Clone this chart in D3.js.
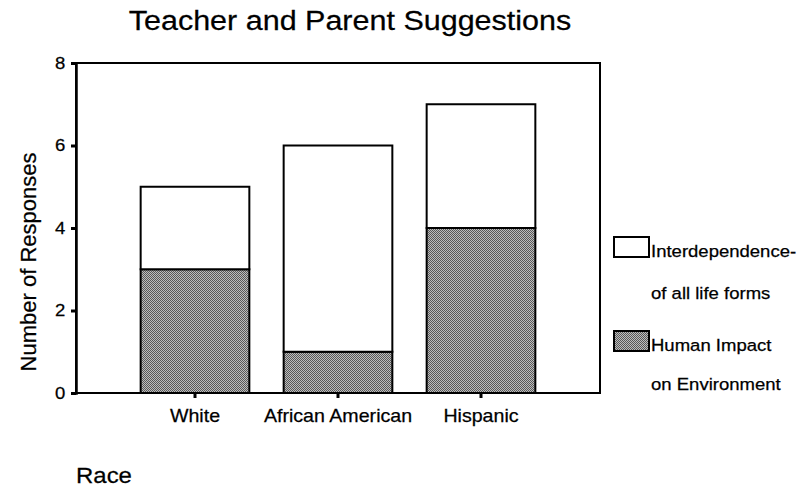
<!DOCTYPE html>
<html>
<head>
<meta charset="utf-8">
<script src="https://cdn.jsdelivr.net/npm/d3@7/dist/d3.min.js"></script>
<style>
  html, body { margin: 0; padding: 0; background: #fff; }
  svg { display: block; }
  text { font-family: "Liberation Sans", Arial, Helvetica, sans-serif; fill: #000; stroke: #000; stroke-width: 0.25px; }
  .wide { transform-box: fill-box; transform-origin: center; transform: scaleX(1.09); }
  .wideL { transform-box: fill-box; transform-origin: left; transform: scaleX(1.09); }
</style>
</head>
<body>
<svg id="chart" width="805" height="488"></svg>
<script>
// ---- Data ----
const categories = ["White", "African American", "Hispanic"];
const humanImpact = [3, 1, 4];            // Human Impact on Environment (bottom, shaded)
const interdependence = [2, 5, 3];        // Interdependence of all life forms (top, white)
const yTicks = [0, 2, 4, 6, 8];
const seriesNames = ["Interdependence-|of all life forms", "Human Impact|on Environment"];
const titleText = "Teacher and Parent Suggestions";
const yLabel = "Number of Responses";
const xLabel = "Race";

// ---- Layout ----
const svg = d3.select("#chart");
const plot = { left: 76, right: 600, top: 63, bottom: 393 };

const defs = svg.append("defs");
const pat = defs.append("pattern")
  .attr("id", "dither").attr("patternUnits", "userSpaceOnUse")
  .attr("width", 2).attr("height", 2);
pat.append("rect").attr("width", 2).attr("height", 2).attr("fill", "#bdbdbd");
pat.append("rect").attr("x", 0).attr("y", 0).attr("width", 1).attr("height", 1).attr("fill", "#585858");
pat.append("rect").attr("x", 1).attr("y", 1).attr("width", 1).attr("height", 1).attr("fill", "#585858");

const x = d3.scaleBand().domain(categories).range([123.5, 552.5])
  .paddingInner(0.24).paddingOuter(0.12);
const y = d3.scaleLinear().domain([0, 8]).range([plot.bottom, plot.top]);

// stacked data
const rows = categories.map((c, i) => ({ cat: c, human: humanImpact[i], inter: interdependence[i] }));
const stack = d3.stack().keys(["human", "inter"])(rows);

// frame
svg.append("rect")
  .attr("x", plot.left).attr("y", plot.top)
  .attr("width", plot.right - plot.left).attr("height", plot.bottom - plot.top)
  .attr("fill", "none").attr("stroke", "#000").attr("stroke-width", 2);

// bars
const fills = { human: "url(#dither)", inter: "#fff" };
stack.forEach(layer => {
  svg.append("g").selectAll("rect").data(layer).join("rect")
    .attr("x", d => x(d.data.cat))
    .attr("width", x.bandwidth())
    .attr("y", d => y(d[1]))
    .attr("height", d => y(d[0]) - y(d[1]))
    .attr("fill", fills[layer.key])
    .attr("stroke", "#000").attr("stroke-width", 2);
});

// y axis
const yAxis = svg.append("g").attr("transform", `translate(${plot.left},0)`)
  .call(d3.axisLeft(y).tickValues(yTicks).tickSize(5).tickPadding(6).tickFormat(d3.format("d")));
yAxis.select(".domain").attr("stroke", "#000").attr("stroke-width", 2.5);
yAxis.selectAll(".tick line").attr("stroke", "#000").attr("stroke-width", 3);
yAxis.selectAll(".tick text").attr("font-size", 17).attr("class", "wide")
  .style("font-family", "'Liberation Sans', Arial, sans-serif");

// x axis
const xAxis = svg.append("g").attr("transform", `translate(0,${plot.bottom})`)
  .call(d3.axisBottom(x).tickSize(5).tickPadding(11));
xAxis.select(".domain").remove();
xAxis.selectAll(".tick line").attr("stroke", "#000").attr("stroke-width", 3);
xAxis.selectAll(".tick text").attr("font-size", 18).attr("class", "wide")
  .style("font-family", "'Liberation Sans', Arial, sans-serif");

// title
svg.append("text").attr("class", "wide")
  .attr("x", 350).attr("y", 30).attr("text-anchor", "middle")
  .attr("font-size", 28).text(titleText);

// y label
svg.append("text")
  .attr("transform", "translate(36,262) rotate(-90)")
  .attr("text-anchor", "middle").attr("font-size", 22).text(yLabel);

// x label
svg.append("text").attr("class", "wideL")
  .attr("x", 76).attr("y", 483).attr("font-size", 22).text(xLabel);

// legend
const legendItems = [
  { name: seriesNames[0], fill: "#fff", top: 237, lh: 42 },
  { name: seriesNames[1], fill: "url(#dither)", top: 331, lh: 39 }
];
legendItems.forEach(it => {
  const g = svg.append("g");
  g.append("rect").attr("x", 614).attr("y", it.top).attr("width", 35).attr("height", 20)
    .attr("fill", it.fill).attr("stroke", "#000").attr("stroke-width", 2);
  const lines = it.name.split("|");
  lines.forEach((ln, k) => {
    g.append("text").attr("class", "wideL").attr("x", 651).attr("y", it.top + 20 + k * it.lh)
      .attr("font-size", 17).text(ln);
  });
});
</script>
</body>
</html>
